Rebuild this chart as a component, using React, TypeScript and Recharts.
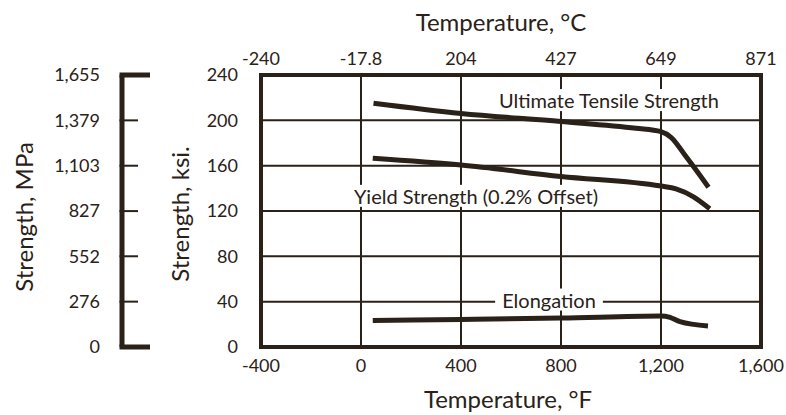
import React, { useLayoutEffect, useRef, useState } from "react";
import { LineChart, Line, XAxis, YAxis, CartesianGrid, ReferenceArea, ReferenceDot } from "recharts";

const INK = "#2a2118";
const FONT = "Lato, 'Open Sans', sans-serif";

// axis ticks
const fahrenheitTicks = [-400, 0, 400, 800, 1200, 1600];
const celsiusLabels = ["-240", "-17.8", "204", "427", "649", "871"];
const ksiTicks = [0, 40, 80, 120, 160, 200, 240];
const mpaTicks = [0, 276, 552, 827, 1103, 1379, 1655];

// series (°F, ksi)
const ultimateTensile = [
  { f: 50, ksi: 215 },
  { f: 400, ksi: 206 },
  { f: 800, ksi: 199 },
  { f: 1100, ksi: 193 },
  { f: 1200, ksi: 190 },
  { f: 1240, ksi: 185 },
  { f: 1300, ksi: 168 },
  { f: 1390, ksi: 141 },
];
const yieldStrength = [
  { f: 47, ksi: 166.5 },
  { f: 400, ksi: 160.5 },
  { f: 800, ksi: 150.5 },
  { f: 1200, ksi: 142 },
  { f: 1260, ksi: 139.5 },
  { f: 1330, ksi: 132.5 },
  { f: 1395, ksi: 122 },
];
const elongation = [
  { f: 47, ksi: 23.3 },
  { f: 400, ksi: 24.3 },
  { f: 800, ksi: 25.5 },
  { f: 1200, ksi: 27.4 },
  { f: 1236, ksi: 26.2 },
  { f: 1276, ksi: 22.3 },
  { f: 1388, ksi: 18.5 },
];

const seriesLabels = [
  { text: "Ultimate Tensile Strength", f: 992, ksi: 217 },
  { text: "Yield Strength (0.2% Offset)", f: 460, ksi: 132.5 },
  { text: "Elongation", f: 752, ksi: 41 },
];

const fmt = (v: number) => v.toLocaleString("en-US");

function SeriesLabel(props: any) {
  const { viewBox, text } = props;
  const ref = useRef<SVGTextElement>(null);
  const [box, setBox] = useState<any>(null);
  const cx = viewBox ? viewBox.x + (viewBox.width || 0) / 2 : 0;
  const cy = viewBox ? viewBox.y + (viewBox.height || 0) / 2 : 0;
  useLayoutEffect(() => {
    if (ref.current) {
      const b = ref.current.getBBox();
      setBox({ x: b.x, y: b.y, width: b.width, height: b.height });
    }
  }, [text, cx, cy]);
  return (
    <g>
      {box && (
        <rect x={box.x - 7} y={box.y + 1} width={box.width + 14} height={box.height - 2} fill="#fff" />
      )}
      <text ref={ref} x={cx} y={cy} dy="0.35em" textAnchor="middle" fontSize={20} fontFamily={FONT} fill={INK}>
        {text}
      </text>
    </g>
  );
}

function MpaTick(props: any) {
  const { x, y, payload } = props;
  const isEnd = payload.value === mpaTicks[0] || payload.value === mpaTicks[mpaTicks.length - 1];
  return (
    <g>
      <line
        x1={x - 2.5}
        x2={x + (isEnd ? 28 : 16)}
        y1={y}
        y2={y}
        stroke={INK}
        strokeWidth={isEnd ? 5 : 2}
      />
      <text x={x - 22} y={y} dy="0.35em" textAnchor="end" fontSize={18} fontFamily={FONT} fill={INK}>
        {fmt(payload.value)}
      </text>
    </g>
  );
}

const tickStyle = { fontSize: 18, fontFamily: FONT, fill: INK };

function AxisTitle({ x, y, text, rotate }: { x: number; y: number; text: string; rotate?: boolean }) {
  return (
    <text
      x={x}
      y={y}
      dy={rotate ? "0.35em" : undefined}
      textAnchor="middle"
      transform={rotate ? `rotate(-90, ${x}, ${y})` : undefined}
      fontSize={24}
      fontFamily={FONT}
      fill={INK}
    >
      {text}
    </text>
  );
}

export default function App() {
  return (
    <div style={{ position: "absolute", left: 0, top: 0, background: "#fff" }}>
      <LineChart width={786} height={415} margin={{ top: 0, right: 25, bottom: 0, left: 0 }}>
        <CartesianGrid stroke={INK} strokeWidth={2} />
        <XAxis
          type="number"
          dataKey="f"
          domain={[-400, 1600]}
          ticks={fahrenheitTicks}
          tickFormatter={fmt}
          allowDataOverflow
          height={68}
          axisLine={false}
          tickLine={false}
          tickSize={0}
          tickMargin={12}
          tick={tickStyle}
          label={{
            content: (p: any) => (
              <AxisTitle x={p.viewBox.x + p.viewBox.width / 2 - 3} y={p.viewBox.y + 61} text="Temperature, °F" />
            ),
          }}
        />
        <XAxis
          xAxisId="top"
          orientation="top"
          type="number"
          dataKey="f"
          domain={[-400, 1600]}
          ticks={fahrenheitTicks}
          tickFormatter={(v: number) => celsiusLabels[fahrenheitTicks.indexOf(v)]}
          allowDataOverflow
          height={75}
          axisLine={false}
          tickLine={false}
          tickSize={0}
          tickMargin={10}
          tick={tickStyle}
          label={{
            content: (p: any) => (
              <AxisTitle x={p.viewBox.x + p.viewBox.width / 2 - 10} y={31} text="Temperature, °C" />
            ),
          }}
        />
        <YAxis
          type="number"
          domain={[0, 240]}
          ticks={ksiTicks}
          allowDataOverflow
          width={139}
          axisLine={false}
          tickLine={false}
          tickSize={0}
          tickMargin={23}
          tick={tickStyle}
          label={{
            content: (p: any) => (
              <AxisTitle x={p.viewBox.x + 59} y={p.viewBox.y + p.viewBox.height / 2 + 3} text="Strength, ksi." rotate />
            ),
          }}
        />
        <YAxis
          yAxisId="mpa"
          type="number"
          domain={[0, 1655]}
          ticks={mpaTicks}
          allowDataOverflow
          width={122}
          axisLine={{ stroke: INK, strokeWidth: 5 }}
          tickLine={false}
          tickSize={0}
          tickMargin={0}
          tick={(p: any) => <MpaTick {...p} />}
          label={{
            content: (p: any) => (
              <AxisTitle x={p.viewBox.x + 25} y={p.viewBox.y + p.viewBox.height / 2 + 6} text="Strength, MPa" rotate />
            ),
          }}
        />
        <ReferenceArea x1={-400} x2={1600} y1={0} y2={240} fill="none" stroke={INK} strokeWidth={4} />
        <Line data={ultimateTensile} dataKey="ksi" type="monotone" stroke={INK} strokeWidth={5} dot={false} isAnimationActive={false} />
        <Line data={yieldStrength} dataKey="ksi" type="monotone" stroke={INK} strokeWidth={5} dot={false} isAnimationActive={false} />
        <Line data={elongation} dataKey="ksi" type="monotone" stroke={INK} strokeWidth={5} dot={false} isAnimationActive={false} />
        {seriesLabels.map((l) => (
          <ReferenceDot
            key={l.text}
            x={l.f}
            y={l.ksi}
            r={0}
            fill="none"
            stroke="none"
            label={<SeriesLabel text={l.text} />}
          />
        ))}
      </LineChart>
    </div>
  );
}
